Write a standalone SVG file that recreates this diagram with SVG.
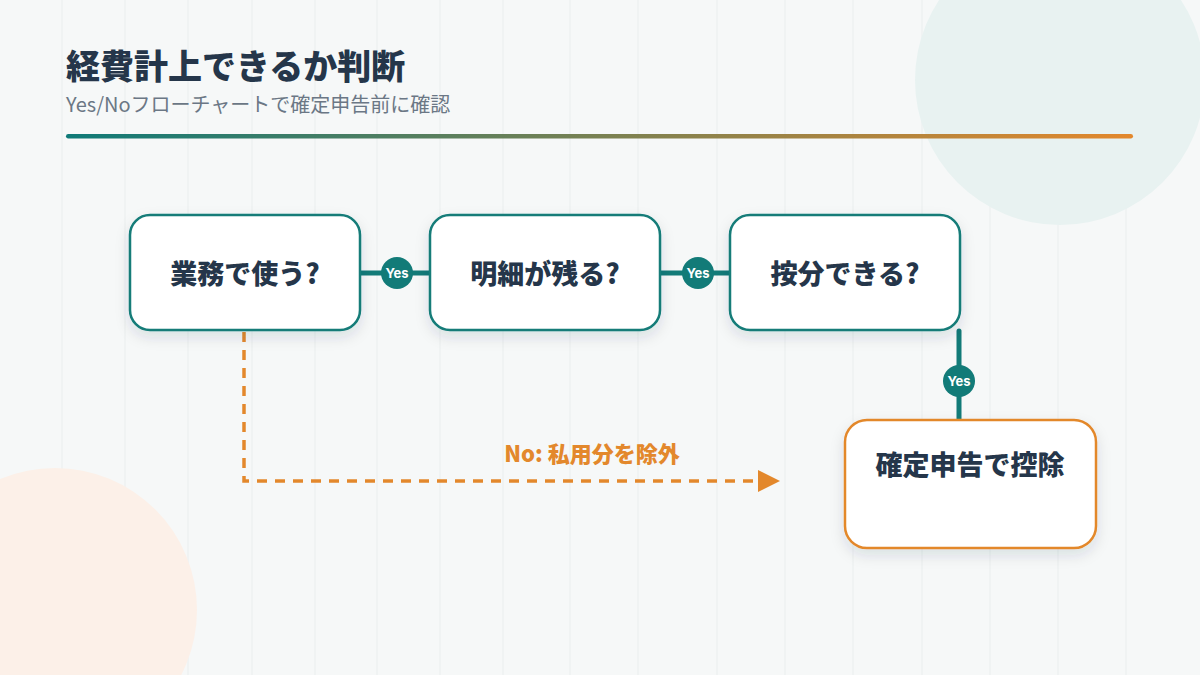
<svg xmlns="http://www.w3.org/2000/svg" width="1200" height="675" viewBox="0 0 1200 675">
<defs>
<linearGradient id="g" x1="0" x2="1"><stop offset="0" stop-color="#0f7a78"/><stop offset="1" stop-color="#e3882c"/></linearGradient>
<filter id="sh" x="-20%" y="-20%" width="140%" height="150%"><feDropShadow dx="0" dy="6" stdDeviation="7" flood-color="#1f3a4a" flood-opacity="0.12"/></filter>
<marker id="ah" markerWidth="24" markerHeight="24" refX="20" refY="12" orient="auto" markerUnits="userSpaceOnUse"><path d="M0,1 L22,12 L0,23 Z" fill="#e3882c"/></marker>
<style>
text{font-family:"Noto Sans CJK JP","Noto Sans",sans-serif;}
.box{fill:#fff;stroke:#127b78;stroke-width:2.5;filter:url(#sh);}
.fin{fill:#fff;stroke:#e3882c;stroke-width:2.5;filter:url(#sh);}
.lbl{font-size:27px;font-weight:900;fill:#25364a;text-anchor:middle;}
.teal{stroke:#127b78;stroke-width:5;fill:none;stroke-linecap:round;}
.yes{fill:#127b78;}
.yt{font-size:13px;font-weight:700;fill:#fff;text-anchor:middle;font-family:Inter,"Noto Sans",sans-serif;}
.grid{stroke:#eef2f2;stroke-width:1.5;}
</style>
</defs>
<rect width="1200" height="675" fill="#f6f8f8"/>
<g class="grid">
<line x1="62" y1="0" x2="62" y2="675"/><line x1="125" y1="0" x2="125" y2="675"/><line x1="188" y1="0" x2="188" y2="675"/><line x1="252" y1="0" x2="252" y2="675"/><line x1="315" y1="0" x2="315" y2="675"/><line x1="377" y1="0" x2="377" y2="675"/><line x1="440" y1="0" x2="440" y2="675"/><line x1="503" y1="0" x2="503" y2="675"/><line x1="570" y1="0" x2="570" y2="675"/><line x1="638" y1="0" x2="638" y2="675"/><line x1="717" y1="0" x2="717" y2="675"/><line x1="785" y1="0" x2="785" y2="675"/><line x1="853" y1="0" x2="853" y2="675"/><line x1="922" y1="0" x2="922" y2="675"/><line x1="990" y1="0" x2="990" y2="675"/><line x1="1058" y1="0" x2="1058" y2="675"/><line x1="1126" y1="0" x2="1126" y2="675"/>
</g>
<circle cx="1060" cy="80" r="145" fill="#e8f2f1"/>
<circle cx="55" cy="610" r="142" fill="#fcf0e8"/>
<text x="66" y="79" font-size="34" font-weight="900" fill="#25364a">経費計上できるか判断</text>
<text x="66" y="112" font-size="20" fill="#6b7785">Yes/Noフローチャートで確定申告前に確認</text>
<rect x="66" y="134" width="1067" height="4.5" rx="2.2" fill="url(#g)"/>
<g id="connectors">
<line class="teal" x1="360" y1="273" x2="430" y2="273"/>
<line class="teal" x1="660" y1="273" x2="730" y2="273"/>
<line class="teal" x1="959" y1="331" x2="959" y2="419" stroke-linecap="butt"/>
<path d="M244,332 V481 H778" fill="none" stroke="#e3882c" stroke-width="3.5" stroke-dasharray="10,8" marker-end="url(#ah)"/>
<text x="592" y="462" font-size="22" font-weight="900" fill="#e3882c" text-anchor="middle">No: 私用分を除外</text>
<circle class="yes" cx="397" cy="273" r="16"/><text class="yt" x="397" y="278">Yes</text>
<circle class="yes" cx="698" cy="273" r="16"/><text class="yt" x="698" y="278">Yes</text>
<circle class="yes" cx="959" cy="381" r="16"/><text class="yt" x="959" y="386">Yes</text>
</g>
<g id="n1"><rect class="box" x="130" y="215" width="230" height="115" rx="20"/><text class="lbl" x="245" y="284">業務で使う?</text></g>
<g id="n2"><rect class="box" x="430" y="215" width="230" height="115" rx="20"/><text class="lbl" x="545" y="284">明細が残る?</text></g>
<g id="n3"><rect class="box" x="730" y="215" width="230" height="115" rx="20"/><text class="lbl" x="845" y="284">按分できる?</text></g>
<g id="n4"><rect class="fin" x="845" y="420" width="251" height="128" rx="22"/><text class="lbl" x="970" y="475">確定申告で控除</text></g>
</svg>
